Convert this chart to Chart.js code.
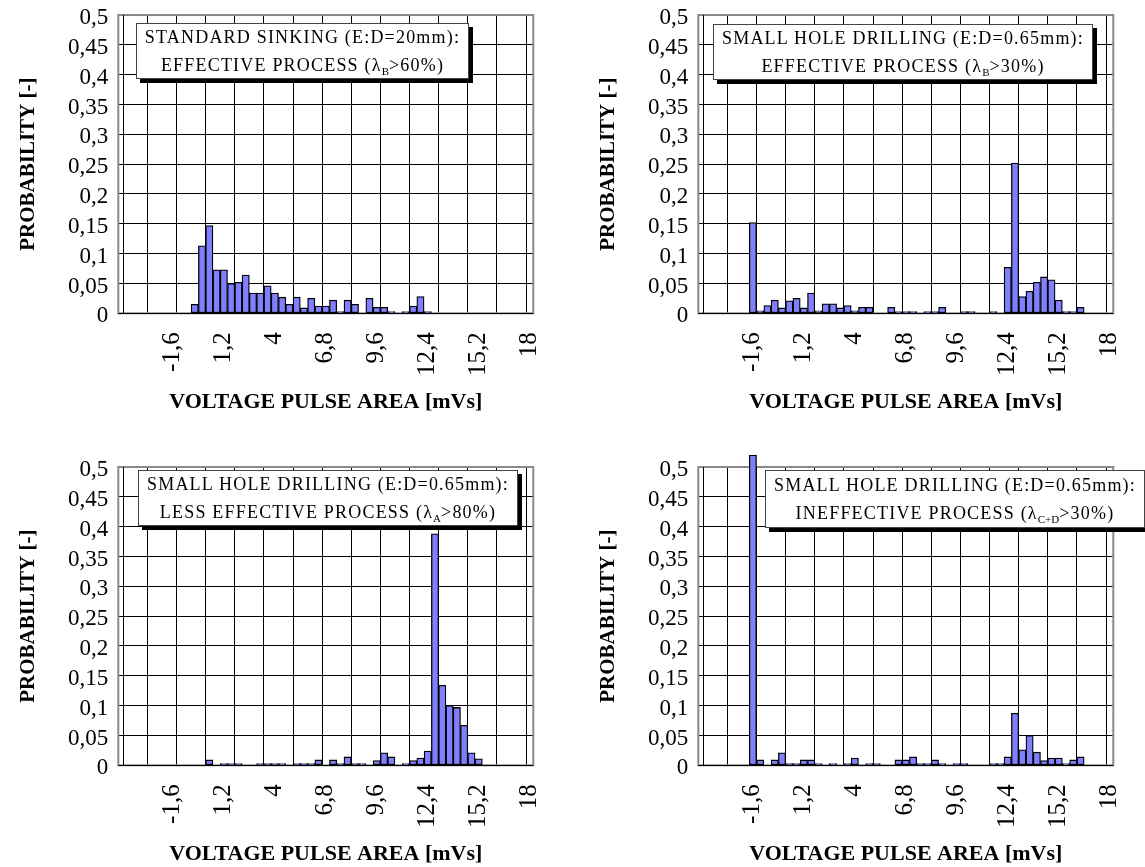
<!DOCTYPE html>
<html>
<head>
<meta charset="utf-8">
<script src="https://cdn.jsdelivr.net/npm/chart.js@4/dist/chart.umd.min.js"></script>
<style>
html,body{margin:0;padding:0;background:#fff;overflow:hidden;width:1145px;height:867px;}
.panel{position:absolute;width:565px;height:420px;}
.panel canvas{display:block;}
.note{position:absolute;background:#fff;border:1px solid #444;box-shadow:4px 4px 0 #000;
  font-family:"Liberation Serif","Times New Roman",serif;font-size:18px;letter-spacing:1.2px;
  text-align:center;line-height:28px;color:#000;box-sizing:border-box;white-space:nowrap;
  display:flex;flex-direction:column;justify-content:center;}
.note sub{font-size:11px;letter-spacing:0;vertical-align:-4px;line-height:0;}
</style>
</head>
<body>
<div class="panel" style="left:0;top:0"><canvas id="c1" width="565" height="420"></canvas></div>
<div class="panel" style="left:580px;top:0"><canvas id="c2" width="565" height="420"></canvas></div>
<div class="panel" style="left:0;top:452px"><canvas id="c3" width="565" height="420"></canvas></div>
<div class="panel" style="left:580px;top:452px"><canvas id="c4" width="565" height="420"></canvas></div>

<div class="note" style="left:136px;top:23px;width:333px;height:56px">
  <div>STANDARD SINKING (E:D=20mm):</div>
  <div>EFFECTIVE PROCESS (λ<sub>B</sub>&gt;60%)</div>
</div>
<div class="note" style="left:713px;top:24px;width:380px;height:56px">
  <div>SMALL HOLE DRILLING (E:D=0.65mm):</div>
  <div>EFFECTIVE PROCESS (λ<sub>B</sub>&gt;30%)</div>
</div>
<div class="note" style="left:138px;top:470px;width:380px;height:56px">
  <div>SMALL HOLE DRILLING (E:D=0.65mm):</div>
  <div>LESS EFFECTIVE PROCESS (λ<sub>A</sub>&gt;80%)</div>
</div>
<div class="note" style="left:765px;top:470px;width:380px;height:58px">
  <div>SMALL HOLE DRILLING (E:D=0.65mm):</div>
  <div>INEFFECTIVE PROCESS (λ<sub>C+D</sub>&gt;30%)</div>
</div>

<script>
// Voltage pulse area bins [mVs]
const categories = [
  -4.4, -4.0, -3.6, -3.2, -2.8, -2.4, -2.0, -1.6, -1.2, -0.8,
  -0.4, 0.0, 0.4, 0.8, 1.2, 1.6, 2.0, 2.4, 2.8, 3.2,
  3.6, 4.0, 4.4, 4.8, 5.2, 5.6, 6.0, 6.4, 6.8, 7.2,
  7.6, 8.0, 8.4, 8.8, 9.2, 9.6, 10.0, 10.4, 10.8, 11.2,
  11.6, 12.0, 12.4, 12.8, 13.2, 13.6, 14.0, 14.4, 14.8, 15.2,
  15.6, 16.0, 16.4, 16.8, 17.2, 17.6, 18.0
];
const tickLabels = ["-1,6", "1,2", "4", "6,8", "9,6", "12,4", "15,2", "18"];

const standardSinkingEffective = [
  null, null, null, null, null, null, null, null, null, null,
  0.015, 0.113, 0.147, 0.073, 0.073, 0.050, 0.052, 0.064, 0.034, 0.034,
  0.046, 0.034, 0.027, 0.015, 0.027, 0.009, 0.025, 0.012, 0.012, 0.022,
  0.003, 0.022, 0.015, null, 0.025, 0.010, 0.010, 0.003, null, 0.003,
  0.012, 0.028, 0.003, null, null, null, null, null, null, null,
  null, null, null, null, null, null, null
];
const smallHoleEffective = [
  null, null, null, null, null, null, null, 0.152, 0.004, 0.013,
  0.022, 0.009, 0.021, 0.025, 0.009, 0.034, 0.004, 0.016, 0.016, 0.009,
  0.013, 0.004, 0.010, 0.010, null, null, 0.010, 0.003, 0.003, 0.003,
  null, 0.003, 0.003, 0.010, null, null, 0.003, 0.003, null, null,
  0.003, null, 0.077, 0.252, 0.028, 0.037, 0.052, 0.061, 0.056, 0.022,
  0.003, 0.003, 0.010, null, null, null, null
];
const smallHoleLessEffective = [
  null, null, null, null, null, null, null, null, null, null,
  null, null, 0.009, null, 0.003, 0.003, 0.003, null, null, 0.003,
  0.003, 0.003, 0.003, null, 0.003, 0.003, 0.003, 0.009, null, 0.009,
  0.003, 0.014, 0.003, 0.003, null, 0.008, 0.021, 0.014, null, 0.003,
  0.008, 0.012, 0.024, 0.388, 0.134, 0.100, 0.097, 0.067, 0.021, 0.011,
  null, null, null, null, null, null, null
];
const smallHoleIneffective = [
  null, null, null, null, null, null, null, 0.520, 0.009, null,
  0.009, 0.021, 0.003, 0.003, 0.009, 0.009, 0.003, null, 0.003, null,
  0.003, 0.012, null, 0.003, 0.003, null, null, 0.009, 0.009, 0.014,
  0.003, 0.003, 0.009, 0.003, null, 0.003, 0.003, null, null, null,
  0.003, 0.003, 0.014, 0.087, 0.026, 0.050, 0.022, 0.008, 0.012, 0.012,
  0.003, 0.009, 0.014, null, null, null, null
];

const fmt = v => String(Math.round(v * 100) / 100).replace('.', ',');

Chart.defaults.font.family = '"Liberation Serif", "Times New Roman", serif';
Chart.defaults.color = '#000';

const framePlugin = {
  id: 'frame',
  beforeDatasetsDraw(chart) {
    const {ctx, chartArea: a} = chart;
    ctx.save();
    ctx.strokeStyle = '#8a8a8a';
    ctx.lineWidth = 2;
    ctx.strokeRect(a.left, a.top, a.right - a.left, a.bottom - a.top);
    ctx.strokeStyle = '#000';
    ctx.lineWidth = 1;
    ctx.beginPath();
    ctx.moveTo(Math.round(a.left) + 5.5, a.top);
    ctx.lineTo(Math.round(a.left) + 5.5, a.bottom);
    ctx.moveTo(a.left, Math.round(a.bottom) + 0.5);
    ctx.lineTo(a.right, Math.round(a.bottom) + 0.5);
    ctx.stroke();
    ctx.restore();
  }
};

function makeChart(id, values) {
  new Chart(document.getElementById(id), {
    type: 'bar',
    data: {
      labels: categories,
      datasets: [{
        data: values,
        backgroundColor: '#8080ff',
        borderColor: '#000',
        borderWidth: 1.3,
        borderSkipped: false,
        barPercentage: 1,
        categoryPercentage: 1,
        clip: false
      }]
    },
    options: {
      responsive: false,
      animation: false,
      devicePixelRatio: 1,
      layout: {padding: {top: 15, right: 31.7, bottom: 0, left: 0}},
      plugins: {legend: {display: false}, tooltip: {enabled: false}},
      scales: {
        x: {
          offset: true,
          border: {display: false},
          grid: {
            offset: true,
            drawTicks: false,
            lineWidth: 1,
            color: ctx => (ctx.index !== undefined && ctx.index > 0 && ctx.index % 4 === 0) ? '#000' : 'rgba(0,0,0,0)'
          },
          ticks: {
            autoSkip: false,
            minRotation: 90,
            maxRotation: 90,
            padding: 19,
            font: {size: 25},
            callback: (val, idx) => {
              const lab = fmt(categories[idx]);
              return tickLabels.includes(lab) ? lab : '';
            }
          },
          title: {
            display: true,
            text: 'VOLTAGE PULSE AREA [mVs]',
            font: {size: 22, weight: 'bold'},
            padding: {top: 0, bottom: 4}
          },
          afterFit: s => { s.height = 106.7; s.paddingLeft = 0; s.paddingRight = 0; }
        },
        y: {
          min: 0,
          max: 0.5,
          border: {display: false},
          grid: {
            drawTicks: false,
            lineWidth: 1,
            color: ctx => (ctx.tick && ctx.tick.value > 0.49) ? 'rgba(0,0,0,0)' : '#000'
          },
          ticks: {
            stepSize: 0.05,
            autoSkip: false,
            padding: 10,
            labelOffset: 3,
            font: {size: 23},
            callback: v => fmt(v)
          },
          title: {
            display: true,
            text: 'PROBABILITY [-]',
            font: {size: 21, weight: 'bold'},
            padding: {top: 16, bottom: 0}
          },
          afterFit: s => { s.width = 118.3; s.paddingTop = 0; s.paddingBottom = 0; }
        }
      }
    },
    plugins: [framePlugin]
  });
}

makeChart('c1', standardSinkingEffective);
makeChart('c2', smallHoleEffective);
makeChart('c3', smallHoleLessEffective);
makeChart('c4', smallHoleIneffective);
</script>
</body>
</html>
